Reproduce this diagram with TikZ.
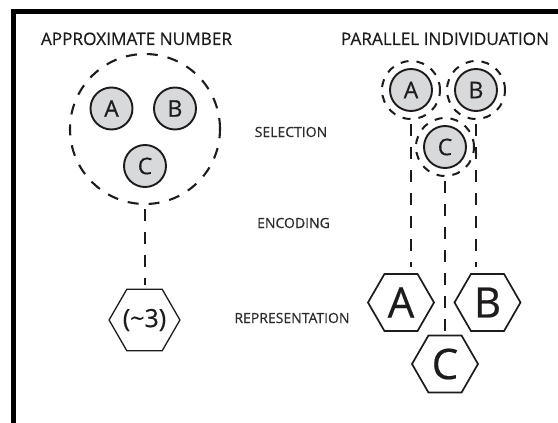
\documentclass[tikz,border=0pt]{standalone}
\usepackage{fontspec}
\setmainfont{Open Sans}[FakeBold=0.5]
\usetikzlibrary{shapes.geometric}
\definecolor{circfill}{RGB}{216,217,219}
\definecolor{ink}{RGB}{30,27,28}
\definecolor{labelink}{RGB}{45,45,45}
\begin{document}
\begin{tikzpicture}[x=1pt,y=-1pt,
  title/.style={font=\fontsize{17.2}{20}\selectfont, text=ink, anchor=base, inner sep=0},
  stage/.style={font=\fontsize{14}{16}\selectfont, text=labelink, anchor=base, inner sep=0},
  item/.style={circle, draw=ink, line width=1.9pt, fill=circfill, minimum size=42pt, inner sep=0,
    font=\fontsize{23}{25}\selectfont, text=ink},
  ring/.style={circle, draw=ink, line width=2pt, dash pattern=on 8pt off 8pt, minimum size=58pt, inner sep=0},
  bigring/.style={circle, draw=ink, line width=2.1pt, dash pattern=on 11pt off 10pt, minimum size=150pt, inner sep=0},
  link/.style={draw=ink, line width=2.1pt, dash pattern=on 12pt off 11pt},
  hexa/.style={regular polygon, regular polygon sides=6, draw=ink, line width=1.7pt, fill=white,
    minimum size=66pt, inner sep=0, text=ink},
  bigletter/.style={font=\fontsize{42}{44}\selectfont},
  approx/.style={font=\fontsize{25}{27}\selectfont, line width=1.3pt}
]
\useasboundingbox (0,0) rectangle (558,423);
\fill[white] (0,0) rectangle (558,423);
% frame
\draw[line width=5pt] (13,423) -- (13,11.5) -- (558,11.5);

% titles
\node[title] (t1) at (136.5,45) {APPROXIMATE NUMBER};
\node[title] (t2) at (445,45) {PARALLEL INDIVIDUATION};

% stage labels
\node[stage] (s1) at (291,137) {SELECTION};
\node[stage] (s2) at (293.5,228) {ENCODING};
\node[stage] (s3) at (292,323) {REPRESENTATION};

% approximate number
\node[bigring] (big) at (145,129) {};
\node[item] (la) at (111.5,108.5) {A};
\node[item] (lb) at (175,108.5) {B};
\node[item] (lc) at (145,166) {C};
\node[hexa, approx] (lh) at (144.5,320) {(\char"7E 3)};
\coordinate (lend) at (145,285);
\draw[link] ([yshift=-4pt]big.south) -- (lend);

% parallel individuation
\node[item] (pa) at (411,90) {A};
\node[item] (pb) at (476,90) {B};
\node[item] (pc) at (445,147) {C};
\node[ring] (ra) at (pa) {};
\node[ring] (rb) at (pb) {};
\node[ring] (rc) at (pc) {};

\coordinate (ea) at (411,267);
\coordinate (eb) at (476,267);
\coordinate (ec) at (445,332);
\draw[link] ([yshift=-4pt]ra.south) -- (ea);
\draw[link] ([yshift=-4pt]rb.south) -- (eb);
\draw[link] ([yshift=-4pt]rc.south) -- (ec);

\node[hexa, bigletter] (ha) at (401,302.5) {A};
\node[hexa, bigletter] (hb) at (487.5,302.5) {B};
\node[hexa, bigletter] (hc) at (445,364) {C};
\end{tikzpicture}
\end{document}
